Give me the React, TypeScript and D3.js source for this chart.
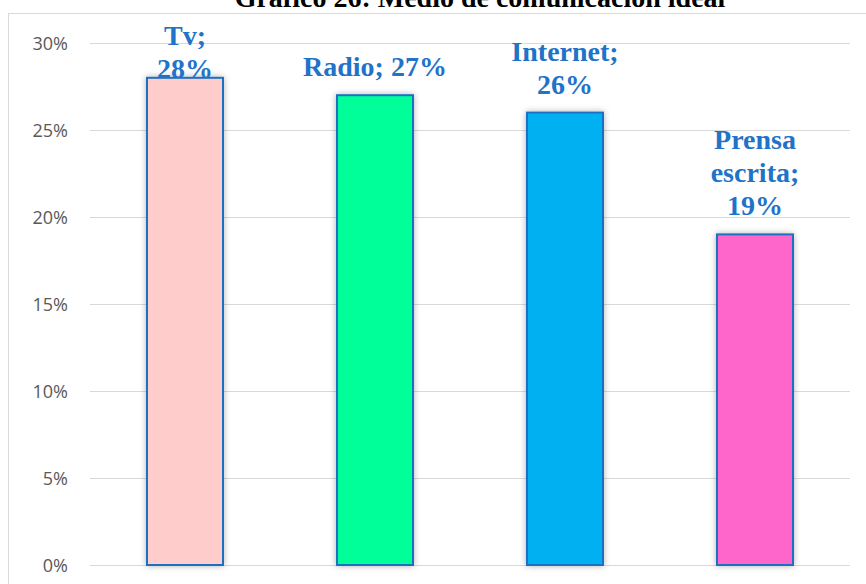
import React from "react";
import * as d3 from "d3";

const categories = ["Tv", "Radio", "Internet", "Prensa escrita"];
const values = [28, 27, 26, 19];
const barColors = ["#FFCCCC", "#00FF99", "#00B0F0", "#FF66CC"];
const labelLines = [["Tv;", "28%"], ["Radio; 27%"], ["Internet;", "26%"], ["Prensa", "escrita;", "19%"]];
const yTicks = [0, 5, 10, 15, 20, 25, 30];
const title = "Gráfico 26: Medio de comunicación ideal";

const W = 866;
const H = 584;

export default function App() {
  const x = d3.scaleBand<string>().domain(categories).range([90, 850]).paddingInner(0.6).paddingOuter(0.3);
  const y = d3.scaleLinear().domain([0, 30]).range([565, 43]);
  const lineH = 33;
  return (
    <div style={{ position: "fixed", left: 0, top: 0 }}>
      <svg width={W} height={H} style={{ display: "block", background: "#fff" }}>
        <defs>
          <filter id="sh" x="-30%" y="-30%" width="160%" height="160%">
            <feDropShadow dx="0" dy="0" stdDeviation="3" floodColor="#000" floodOpacity="0.3" />
          </filter>
        </defs>
        <rect x={8.5} y={13.5} width={W} height={H} fill="#fff" stroke="#D9D9D9" strokeWidth={1} />
        <text x={480} y={7} textAnchor="middle" fontFamily="'Liberation Serif', 'Times New Roman', serif" fontWeight="bold" fontSize={28} fill="#000">
          {title}
        </text>
        {yTicks.map((t) => (
          <g key={t}>
            <line x1={90} x2={850} y1={Math.round(y(t)) + 0.5} y2={Math.round(y(t)) + 0.5} stroke="#D9D9D9" strokeWidth={1} />
            <text x={68} y={y(t) + 6.5} textAnchor="end" fontFamily="'Open Sans', 'Liberation Sans', sans-serif" fontSize={18} fill="#595959">
              {t}%
            </text>
          </g>
        ))}
        {categories.map((c, i) => (
          <rect
            key={c}
            x={x(c)!}
            y={y(values[i])}
            width={x.bandwidth()}
            height={y(0) - y(values[i])}
            fill={barColors[i]}
            stroke="#1F70C1"
            strokeWidth={2}
            filter="url(#sh)"
          />
        ))}
        {categories.map((c, i) => {
          const lines = labelLines[i];
          const cx = x(c)! + x.bandwidth() / 2;
          let lastBase = y(values[i]) - 19;
          let firstBase = lastBase - (lines.length - 1) * lineH;
          if (firstBase < 45) {
            firstBase = 45;
          }
          return (
            <text key={c} textAnchor="middle" fontFamily="'Liberation Serif', 'Times New Roman', serif" fontWeight="bold" fontSize={28} fill="#1F73C8">
              {lines.map((l, j) => (
                <tspan key={j} x={cx} y={firstBase + j * lineH}>
                  {l}
                </tspan>
              ))}
            </text>
          );
        })}
      </svg>
    </div>
  );
}
